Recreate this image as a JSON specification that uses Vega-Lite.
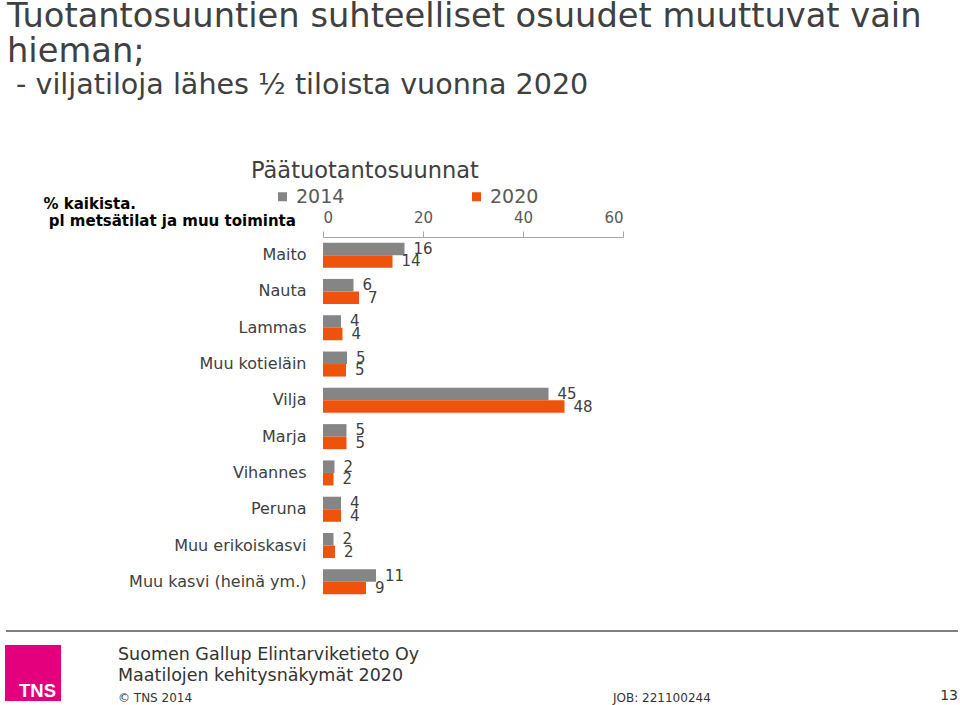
{
  "$schema": "https://vega.github.io/schema/vega-lite/v6.json",
  "background": "white",
  "padding": {"left": 5, "top": 0, "right": 0, "bottom": 0},
  "config": {"view": {"stroke": null}, "font": "DejaVu Sans"},
  "title": {
    "text": ["Tuotantosuuntien suhteelliset osuudet muuttuvat vain", "hieman;"],
    "subtitle": "\u200b\u00a0- viljatiloja lähes ½ tiloista vuonna 2020",
    "anchor": "start",
    "frame": "bounds",
    "font": "DejaVu Sans",
    "fontSize": 33.7,
    "fontWeight": "normal",
    "color": "#404040",
    "lineHeight": 35,
    "subtitleFont": "DejaVu Sans",
    "subtitleFontSize": 28.6,
    "subtitleColor": "#404040",
    "subtitleLineHeight": 33,
    "subtitlePadding": 2,
    "offset": 60,
    "dx": 2
  },
  "bounds": "flush",
  "spacing": 20,
  "vconcat": [
    {
      "width": 300,
      "height": 363,
      "title": {
        "text": "Päätuotantosuunnat",
        "anchor": "start",
        "frame": "group",
        "dx": -72,
        "font": "DejaVu Sans",
        "fontSize": 22.5,
        "fontWeight": "normal",
        "color": "#404040",
        "offset": 14
      },
      "data": {
        "values": [
          {"category": "Maito", "year": "2014", "value": 16.3},
          {"category": "Maito", "year": "2020", "value": 13.9},
          {"category": "Nauta", "year": "2014", "value": 6.1},
          {"category": "Nauta", "year": "2020", "value": 7.2},
          {"category": "Lammas", "year": "2014", "value": 3.6},
          {"category": "Lammas", "year": "2020", "value": 3.9},
          {"category": "Muu kotieläin", "year": "2014", "value": 4.8},
          {"category": "Muu kotieläin", "year": "2020", "value": 4.6},
          {"category": "Vilja", "year": "2014", "value": 45.1},
          {"category": "Vilja", "year": "2020", "value": 48.3},
          {"category": "Marja", "year": "2014", "value": 4.7},
          {"category": "Marja", "year": "2020", "value": 4.7},
          {"category": "Vihannes", "year": "2014", "value": 2.3},
          {"category": "Vihannes", "year": "2020", "value": 2.1},
          {"category": "Peruna", "year": "2014", "value": 3.6},
          {"category": "Peruna", "year": "2020", "value": 3.6},
          {"category": "Muu erikoiskasvi", "year": "2014", "value": 2.1},
          {"category": "Muu erikoiskasvi", "year": "2020", "value": 2.4},
          {"category": "Muu kasvi (heinä ym.)", "year": "2014", "value": 10.6},
          {"category": "Muu kasvi (heinä ym.)", "year": "2020", "value": 8.6}
        ]
      },
      "encoding": {
        "y": {
          "field": "category",
          "type": "nominal",
          "sort": null,
          "scale": {"paddingInner": 0.31, "paddingOuter": 0.155},
          "axis": {
            "title": ["% kaikista.", "\u200b\u00a0pl metsätilat ja muu toiminta"],
            "titleAngle": 0,
            "titleAlign": "left",
            "titleBaseline": "alphabetic",
            "titleX": -280,
            "titleY": -29,
            "titleFont": "DejaVu Sans",
            "titleFontSize": 15,
            "titleFontWeight": "bold",
            "titleColor": "#000000",
            "titleLineHeight": 17,
            "labelFont": "DejaVu Sans",
            "labelFontSize": 16,
            "labelColor": "#404040",
            "labelPadding": 17,
            "labelLimit": 300,
            "ticks": false,
            "domain": false
          }
        },
        "yOffset": {"field": "year", "type": "nominal", "scale": {"paddingInner": 0, "paddingOuter": 0}},
        "x": {
          "field": "value",
          "type": "quantitative",
          "scale": {"domain": [0, 60]},
          "axis": {
            "orient": "top",
            "values": [0, 20, 40, 60],
            "title": null,
            "grid": false,
            "labelFont": "DejaVu Sans",
            "labelFontSize": 15,
            "labelColor": "#595959",
            "tickColor": "#a6a6a6",
            "domainColor": "#a6a6a6",
            "tickSize": 6,
            "labelPadding": 6
          }
        }
      },
      "layer": [
        {
          "mark": {"type": "bar"},
          "encoding": {
            "color": {
              "field": "year",
              "type": "nominal",
              "scale": {"domain": ["2014", "2020"], "range": ["#858585", "#ef530b"]},
              "legend": {
                "title": null,
                "orient": "none",
                "legendX": -50,
                "legendY": -50,
                "direction": "horizontal",
                "symbolType": "square",
                "symbolSize": 81,
                "symbolStrokeWidth": 0,
                "labelFont": "DejaVu Sans",
                "labelFontSize": 19,
                "labelColor": "#595959",
                "labelOffset": 4,
                "columnPadding": 122,
                "padding": 0
              }
            }
          }
        },
        {
          "mark": {"type": "text", "align": "left", "baseline": "middle", "dx": 9, "font": "DejaVu Sans", "fontSize": 15, "color": "#404040"},
          "encoding": {"text": {"field": "value", "type": "quantitative", "format": ".0f"}}
        }
      ]
    },
    {
      "width": 638,
      "height": 85,
      "data": {"values": [{}]},
      "layer": [
        {
          "mark": {"type": "rule", "color": "#7f7f7f", "strokeWidth": 2},
          "encoding": {
            "x": {"datum": 5, "type": "quantitative", "scale": {"domain": [322, 960], "nice": false, "zero": false}, "axis": null},
            "x2": {"datum": 957},
            "y": {"datum": 631, "type": "quantitative", "scale": {"domain": [705, 620], "nice": false, "zero": false}, "axis": null}
          }
        },
        {
          "mark": {"type": "rect", "color": "#e4007c"},
          "encoding": {
            "x": {"datum": 4, "type": "quantitative"},
            "x2": {"datum": 60},
            "y": {"datum": 645, "type": "quantitative"},
            "y2": {"datum": 701}
          }
        },
        {
          "mark": {"type": "text", "text": "TNS", "align": "left", "baseline": "alphabetic", "font": "Liberation Sans", "fontWeight": "bold", "fontSize": 18.5, "color": "white"},
          "encoding": {"x": {"datum": 18, "type": "quantitative"}, "y": {"datum": 697, "type": "quantitative"}}
        },
        {
          "mark": {"type": "text", "text": "Suomen Gallup Elintarviketieto Oy", "align": "left", "baseline": "alphabetic", "font": "DejaVu Sans", "fontSize": 17.5, "color": "#333333"},
          "encoding": {"x": {"datum": 117, "type": "quantitative"}, "y": {"datum": 660, "type": "quantitative"}}
        },
        {
          "mark": {"type": "text", "text": "Maatilojen kehitysnäkymät 2020", "align": "left", "baseline": "alphabetic", "font": "DejaVu Sans", "fontSize": 17.5, "color": "#333333"},
          "encoding": {"x": {"datum": 117, "type": "quantitative"}, "y": {"datum": 681, "type": "quantitative"}}
        },
        {
          "mark": {"type": "text", "text": "© TNS 2014", "align": "left", "baseline": "alphabetic", "font": "DejaVu Sans", "fontSize": 12, "color": "#333333"},
          "encoding": {"x": {"datum": 117, "type": "quantitative"}, "y": {"datum": 702, "type": "quantitative"}}
        },
        {
          "mark": {"type": "text", "text": "JOB: 221100244", "align": "left", "baseline": "alphabetic", "font": "DejaVu Sans", "fontSize": 12, "color": "#333333"},
          "encoding": {"x": {"datum": 612, "type": "quantitative"}, "y": {"datum": 702, "type": "quantitative"}}
        },
        {
          "mark": {"type": "text", "text": "13", "align": "right", "baseline": "alphabetic", "font": "DejaVu Sans", "fontSize": 14, "color": "#333333"},
          "encoding": {"x": {"datum": 957, "type": "quantitative"}, "y": {"datum": 700, "type": "quantitative"}}
        }
      ]
    }
  ]
}
